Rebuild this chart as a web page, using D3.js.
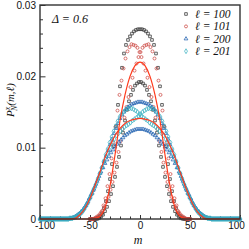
<!DOCTYPE html>
<html lang="en">
<head>
<meta charset="utf-8">
<title>P_N^x(m, l), Delta = 0.6</title>
<script src="https://d3js.org/d3.v7.min.js"></script>
<style>
  body { margin: 0; background: #fff; }
  svg { display: block; }
</style>
</head>
<body>
<script>
// values; each sub-sequence runs in steps of 2 in m
// l = 100, even m = -50 ... 50
var l100Even = [0, 0, 0, .0001, .0002, .0004, .0008, .0015, .0025, .0039, .0056, .0077, .0102, .0130, .0160, .0186, .0212, .0232, .0244, .0251, .0256, .0260, .0263, .0265, .0266,
  .0266,
  .0266, .0265, .0263, .0260, .0256, .0251, .0244, .0232, .0212, .0186, .0160, .0130, .0102, .0077, .0056, .0039, .0025, .0015, .0008, .0004, .0002, .0001, 0, 0, 0];
// l = 100, odd m = -49 ... 49
var l100Odd = [0, 0, 0, 0, .0001, .0003, .0006, .0011, .0017, .0025, .0035, .0046, .0059, .0073, .0087, .0103, .0121, .0138, .0153, .0165, .0174, .0181, .0187, .0190, .0192,
  .0192, .0190, .0187, .0181, .0174, .0165, .0153, .0138, .0121, .0103, .0087, .0073, .0059, .0046, .0035, .0025, .0017, .0011, .0006, .0003, .0001, 0, 0, 0, 0];
// l = 101, m = -50.5, -48.5 ... 49.5
var l101A = [0, 0, 0, .0001, .0002, .0005, .0010, .0019, .0029, .0046, .0063, .0085, .0107, .0129, .0152, .0174, .0194, .0211, .0225, .0235, .0241, .0245, .0244, .0243, .0240, .0234,
  .0227, .0218, .0208, .0198, .0185, .0171, .0157, .0142, .0126, .0109, .0094, .0079, .0065, .0052, .0041, .0031, .0024, .0017, .0012, .0008, .0005, .0003, .0001, 0, 0];
// l = 101, m = -49.5, -47.5 ... 50.5
var l101B = [0, 0, .0001, .0003, .0005, .0008, .0012, .0017, .0024, .0031, .0041, .0052, .0065, .0079, .0094, .0109, .0126, .0142, .0157, .0171, .0185, .0198, .0208, .0218, .0227,
  .0234, .0240, .0243, .0244, .0245, .0241, .0235, .0225, .0211, .0194, .0174, .0152, .0129, .0107, .0085, .0063, .0046, .0029, .0019, .0010, .0005, .0002, .0001, 0, 0, 0];
// l = 200, even m = -100 ... 100
var l200Even = [0, 0, 0, 0, 0, 0, 0, 0, 0, 0, 0, 0, 0, 0, 0,
  .0001, .0001, .0002, .0004, .0006, .0008, .0011, .0015, .0019, .0024, .0030, .0036, .0042, .0049, .0056, .0064, .0072, .0080, .0088, .0096,
  .0104, .0112, .0120, .0127, .0134, .0141, .0146, .0150, .0154, .0157, .0159, .0161, .0162, .0163, .0164,
  .0164,
  .0164, .0163, .0162, .0161, .0159, .0157, .0154, .0150, .0146, .0141, .0134, .0127, .0120, .0112, .0104,
  .0096, .0088, .0080, .0072, .0064, .0056, .0049, .0042, .0036, .0030, .0024, .0019, .0015, .0011, .0008, .0006, .0004, .0002, .0001, .0001,
  0, 0, 0, 0, 0, 0, 0, 0, 0, 0, 0, 0, 0, 0, 0];
// l = 200, odd m = -99 ... 99
var l200Odd = [0, 0, 0, 0, 0, 0, 0, 0, 0, 0, 0, 0, 0, 0, 0,
  .0001, .0002, .0003, .0005, .0007, .0010, .0013, .0017, .0022, .0028, .0034, .0040, .0046, .0053, .0060, .0066, .0072, .0078, .0083, .0088,
  .0093, .0097, .0101, .0105, .0108, .0111, .0114, .0117, .0119, .0121, .0123, .0124, .0125, .0126, .0126,
  .0126, .0126, .0125, .0124, .0123, .0121, .0119, .0117, .0114, .0111, .0108, .0105, .0101, .0097, .0093,
  .0088, .0083, .0078, .0072, .0066, .0060, .0053, .0046, .0040, .0034, .0028, .0022, .0017, .0013, .0010, .0007, .0005, .0003, .0002, .0001,
  0, 0, 0, 0, 0, 0, 0, 0, 0, 0, 0, 0, 0, 0, 0];
// l = 201, m = -100.5, -98.5 ... 99.5
var l201A = [0, 0, 0, 0, 0, 0, 0, 0, 0, 0, 0, 0, 0, 0, 0,
  .0001, .0001, .0002, .0003, .0005, .0007, .0010, .0013, .0018, .0023, .0029, .0035, .0042, .0048, .0056, .0064, .0072, .0081, .0090, .0098,
  .0107, .0115, .0123, .0130, .0137, .0143, .0147, .0150, .0153, .0155, .0155, .0155, .0154, .0152, .0150, .0147,
  .0144, .0142, .0140, .0138, .0135, .0133, .0131, .0129, .0126, .0123, .0120, .0117, .0112, .0107, .0101,
  .0095, .0088, .0081, .0073, .0065, .0058, .0050, .0043, .0036, .0030, .0024, .0019, .0014, .0010, .0007, .0005, .0003, .0002, .0001, .0001,
  0, 0, 0, 0, 0, 0, 0, 0, 0, 0, 0, 0, 0, 0, 0];
// l = 201, m = -99.5, -97.5 ... 100.5
var l201B = [0, 0, 0, 0, 0, 0, 0, 0, 0, 0, 0, 0, 0, 0, 0,
  .0001, .0001, .0002, .0003, .0005, .0007, .0010, .0014, .0019, .0024, .0030, .0036, .0043, .0050, .0058, .0065, .0073, .0081, .0088, .0095,
  .0101, .0107, .0112, .0117, .0120, .0123, .0126, .0129, .0131, .0133, .0135, .0138, .0140, .0142, .0144,
  .0147, .0150, .0152, .0154, .0155, .0155, .0155, .0153, .0150, .0147, .0143, .0137, .0130, .0123, .0115, .0107,
  .0098, .0090, .0081, .0072, .0064, .0056, .0048, .0042, .0035, .0029, .0023, .0018, .0013, .0010, .0007, .0005, .0003, .0002, .0001, .0001,
  0, 0, 0, 0, 0, 0, 0, 0, 0, 0, 0, 0, 0, 0, 0];

// the two red curves, m = -100, -95 ... 100
var redNarrow = [0, 0, 0, 0, 0, 0, 0, 0, 0, 0, 0,
  .0001, .0004, .0016, .0046, .0090, .0138, .0174, .0200, .0215, .0220, .0215, .0200, .0174, .0138, .0090, .0046, .0016, .0004, .0001,
  0, 0, 0, 0, 0, 0, 0, 0, 0, 0, 0];
var redWide = [0, 0, 0, 0, 0, 0,
  0, .0001, .0006, .0015, .0029, .0047, .0066, .0086, .0103, .0117, .0127, .0134, .0138, .0140, .0141,
  .0140, .0138, .0134, .0127, .0117, .0103, .0086, .0066, .0047, .0029, .0015, .0006, .0001, 0,
  0, 0, 0, 0, 0, 0];

var xTicks = [-100, -50, 0, 50, 100];
var yTicks = [0, 0.01, 0.02, 0.03];
var legendLabels = ["\u2113 = 100", "\u2113 = 101", "\u2113 = 200", "\u2113 = 201"];

var w = 249, h = 249;
var padL = 40, padR = 240, padT = 5, padB = 219;
var serif = "'Liberation Serif', 'DejaVu Serif', serif";
var sans = "'Liberation Sans', Arial, sans-serif";

var svg = d3.select("body").append("svg")
  .attr("width", w)
  .attr("height", h);

var x = d3.scaleLinear().domain([-100, 100]).range([padL, padR]);
var y = d3.scaleLinear().domain([0, 0.03]).range([padB, padT]);

var series = [
  {vals: l100Even, m0: -50,    type: d3.symbolSquare,   size: 7, color: "#333333"},
  {vals: l100Odd,  m0: -49,    type: d3.symbolSquare,   size: 7, color: "#333333"},
  {vals: l101A,    m0: -50.5,  type: d3.symbolCircle,   size: 7, color: "#cc4a44"},
  {vals: l101B,    m0: -49.5,  type: d3.symbolCircle,   size: 7, color: "#cc4a44"},
  {vals: l200Even, m0: -100,   type: d3.symbolTriangle, size: 6, color: "#2262b0"},
  {vals: l200Odd,  m0: -99,    type: d3.symbolTriangle, size: 6, color: "#2262b0"},
  {vals: l201A,    m0: -100.5, type: d3.symbolDiamond,  size: 7, color: "#3cb2c2"},
  {vals: l201B,    m0: -99.5,  type: d3.symbolDiamond,  size: 7, color: "#3cb2c2"}
];

// axes: major + minor ticks pointing inward
var axX = svg.append("g")
  .attr("transform", "translate(0," + padB + ")")
  .call(d3.axisBottom(x).tickValues(xTicks).tickSizeInner(-4).tickSizeOuter(0).tickPadding(3)
    .tickFormat(function(d) { return String(d); }));
axX.append("g")
  .call(d3.axisBottom(x).tickValues(d3.range(-90, 100, 10).filter(function(d) { return d % 50 !== 0; }))
    .tickSizeInner(-2.5).tickSizeOuter(0).tickFormat(""));

var axY = svg.append("g")
  .attr("transform", "translate(" + padL + ",0)")
  .call(d3.axisLeft(y).tickValues(yTicks).tickSizeInner(-5.5).tickSizeOuter(0).tickPadding(4)
    .tickFormat(function(d) { return d === 0 ? "0" : d3.format(".2f")(d); }));
axY.append("g")
  .call(d3.axisLeft(y).tickValues(d3.range(1, 15).filter(function(d) { return d % 5 !== 0; }).map(function(d) { return d * 0.002; }))
    .tickSizeInner(-3).tickSizeOuter(0).tickFormat(""));

svg.selectAll(".domain").remove();
svg.selectAll(".tick line").attr("stroke", "#333").attr("stroke-width", 1);
svg.selectAll(".tick text")
  .attr("fill", "#111")
  .style("font-family", sans)
  .style("font-size", "10px");
// the end labels of the x axis sit a little inside the frame
axX.selectAll(".tick text").attr("dx", function(d) { return d === -100 ? 4.5 : d === 100 ? -4 : 0; });

// markers
series.forEach(function(s) {
  var sym = d3.symbol().type(s.type).size(s.size);
  svg.append("g")
    .selectAll("path")
    .data(s.vals)
    .enter()
    .append("path")
      .attr("d", sym)
      .attr("transform", function(d, i) {
        return "translate(" + x(s.m0 + 2 * i) + "," + y(d) + ")";
      })
      .attr("fill", "none")
      .attr("stroke", s.color)
      .attr("stroke-width", 0.75);
});

// red curves
var lineM = d3.range(-100, 101, 5);
var line = d3.line()
  .x(function(d, i) { return x(lineM[i]); })
  .y(function(d) { return y(d); })
  .curve(d3.curveMonotoneX);

[redNarrow, redWide].forEach(function(v) {
  svg.append("path")
    .datum(v)
    .attr("fill", "none")
    .attr("stroke", "#ff3a1c")
    .attr("stroke-width", 1.2)
    .attr("d", line);
});

// frame
svg.append("rect")
  .attr("x", padL)
  .attr("y", padT)
  .attr("width", padR - padL)
  .attr("height", padB - padT)
  .attr("fill", "none")
  .attr("stroke", "#333")
  .attr("stroke-width", 1.4);

// legend
var legSym = [
  {type: d3.symbolSquare, size: 7, color: "#333333"},
  {type: d3.symbolCircle, size: 7, color: "#cc4a44"},
  {type: d3.symbolTriangle, size: 6, color: "#2262b0"},
  {type: d3.symbolDiamond, size: 7, color: "#3cb2c2"}
];
var leg = svg.append("g");
leg.selectAll("path")
  .data(legSym)
  .enter()
  .append("path")
    .attr("d", function(d) { return d3.symbol().type(d.type).size(d.size)(); })
    .attr("transform", function(d, i) { return "translate(186," + (14 + i * 12.4) + ")"; })
    .attr("fill", "none")
    .attr("stroke", function(d) { return d.color; })
    .attr("stroke-width", 0.75);
leg.selectAll("text")
  .data(legendLabels)
  .enter()
  .append("text")
    .attr("x", 195)
    .attr("y", function(d, i) { return 18 + i * 12.4; })
    .style("font-family", serif)
    .style("font-style", "italic")
    .style("font-size", "11.5px")
    .attr("fill", "#111")
    .text(function(d) { return d; });

// Delta label
svg.append("text")
  .attr("x", 52)
  .attr("y", 23)
  .style("font-family", serif)
  .style("font-style", "italic")
  .style("font-size", "12px")
  .attr("fill", "#111")
  .text("\u0394 = 0.6");

// axis titles
svg.append("text")
  .attr("x", 138)
  .attr("y", 244)
  .attr("text-anchor", "middle")
  .style("font-family", serif)
  .style("font-style", "italic")
  .style("font-size", "12px")
  .attr("fill", "#111")
  .text("m");

var yl = svg.append("text")
  .attr("transform", "translate(14,100) rotate(-90)")
  .attr("text-anchor", "middle")
  .style("font-family", serif)
  .style("font-style", "italic")
  .style("font-size", "11px")
  .attr("fill", "#111");
yl.append("tspan").text("P");
yl.append("tspan").attr("dy", -4).style("font-size", "8px").text("x");
yl.append("tspan").attr("dx", -4.5).attr("dy", 7).style("font-size", "8px").text("N");
yl.append("tspan").attr("dy", -3).text("(m,\u2113)");
</script>
</body>
</html>
